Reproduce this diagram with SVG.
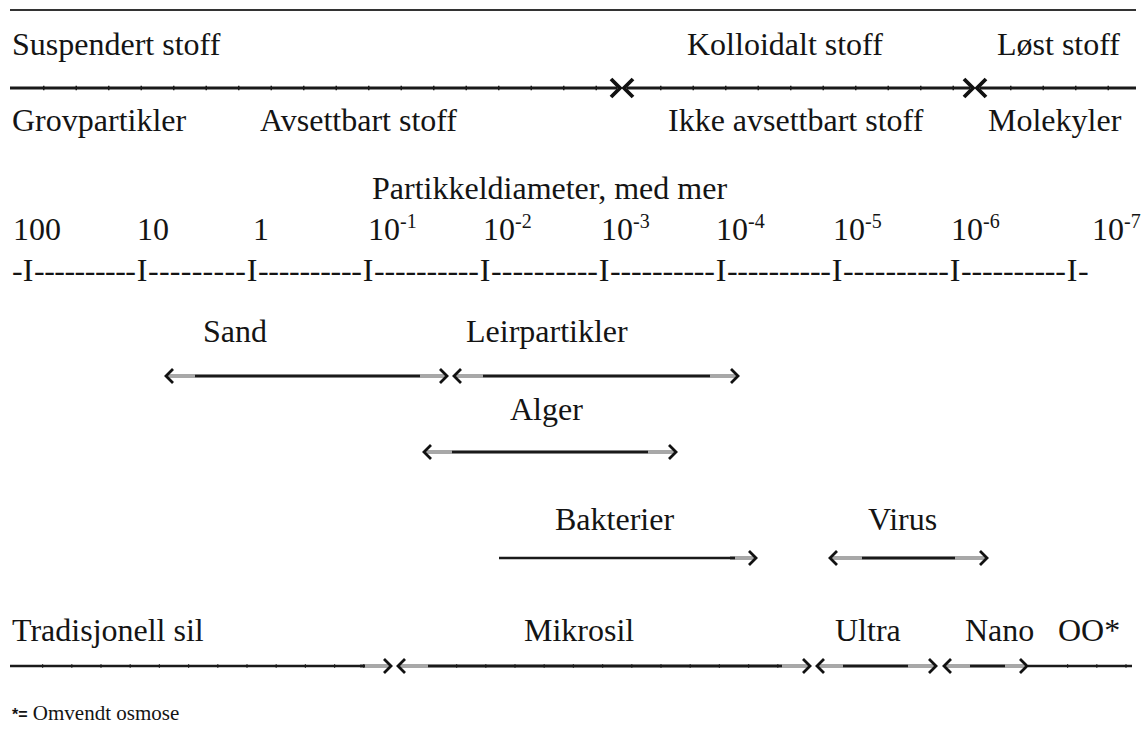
<svg xmlns="http://www.w3.org/2000/svg" width="1144" height="740" viewBox="0 0 1144 740">
<style>
  text { font-family: "Liberation Serif", "Times New Roman", serif; font-size: 32px; fill: #141414; }
  .sup { font-size: 20px; }
  .foot { font-size: 21px; }
  .star { font-family: "Liberation Sans", Arial, sans-serif; font-weight: bold; font-size: 16px; }
  .rule { stroke: #333; stroke-width: 2; fill: none; }
  .main { stroke: #1a1a1a; stroke-width: 3.2; fill: none; }
  .ticks { stroke: #1a1a1a; stroke-width: 4.6; stroke-dasharray: 1.5 31; fill: none; }
  .under { stroke: #a8a8a8; stroke-width: 4; fill: none; }
  .dark { stroke: #1a1a1a; stroke-width: 2.6; fill: none; }
  .sticks { stroke: #1a1a1a; stroke-width: 3.6; stroke-dasharray: 1.2 28; fill: none; }
  .chevL { stroke: #111; stroke-width: 3.8; fill: none; stroke-linejoin: miter; }
  .chev { stroke: #111; stroke-width: 2.8; fill: none; stroke-linejoin: miter; }
</style>

<rect width="1144" height="740" fill="#ffffff"/>

<g id="connectors">
  <line class="rule" x1="10" y1="10" x2="1136" y2="10"/>
  <!-- top category line -->
  <line class="main" x1="10" y1="88" x2="617" y2="88"/>
  <line class="main" x1="627" y1="88" x2="970" y2="88"/>
  <line class="main" x1="980" y1="88" x2="1136" y2="88"/>
  <line class="ticks" x1="43" y1="88" x2="617" y2="88"/>
  <line class="ticks" x1="660" y1="88" x2="970" y2="88"/>
  <line class="ticks" x1="1010" y1="88" x2="1136" y2="88"/>
  <path class="chevL" d="M611,79 L620,88 L611,97"/>
  <path class="chevL" d="M633,79 L624,88 L633,97"/>
  <path class="chevL" d="M964,79 L973,88 L964,97"/>
  <path class="chevL" d="M986,79 L977,88 L986,97"/>

  <!-- Sand -->
  <line class="under" x1="167" y1="376" x2="446" y2="376"/>
  <line class="dark" x1="195" y1="376" x2="420" y2="376"/>
  <path class="chev" d="M173,369 L166,376 L173,383"/>
  <path class="chev" d="M440,369 L447,376 L440,383"/>
  <!-- Leirpartikler -->
  <line class="under" x1="455" y1="376" x2="737" y2="376"/>
  <line class="dark" x1="483" y1="376" x2="710" y2="376"/>
  <path class="chev" d="M461,369 L454,376 L461,383"/>
  <path class="chev" d="M731,369 L738,376 L731,383"/>
  <!-- Alger -->
  <line class="under" x1="425" y1="452" x2="675" y2="452"/>
  <line class="dark" x1="452" y1="452" x2="648" y2="452"/>
  <path class="chev" d="M431,445 L424,452 L431,459"/>
  <path class="chev" d="M669,445 L676,452 L669,459"/>
  <!-- Bakterier -->
  <line class="under" x1="730" y1="558" x2="755" y2="558"/>
  <line class="dark" x1="499" y1="558" x2="735" y2="558"/>
  <path class="chev" d="M749,551 L756,558 L749,565"/>
  <!-- Virus -->
  <line class="under" x1="831" y1="558" x2="986" y2="558"/>
  <line class="dark" x1="862" y1="558" x2="955" y2="558"/>
  <path class="chev" d="M837,551 L830,558 L837,565"/>
  <path class="chev" d="M980,551 L987,558 L980,565"/>

  <!-- filter line -->
  <line class="under" x1="360" y1="666" x2="390" y2="666"/>
  <line class="dark" x1="10" y1="666" x2="365" y2="666"/>
  <line class="sticks" x1="42" y1="666" x2="365" y2="666"/>
  <path class="chev" d="M384,659 L391,666 L384,673"/>
  <line class="under" x1="399" y1="666" x2="809" y2="666"/>
  <line class="dark" x1="428" y1="666" x2="782" y2="666"/>
  <line class="sticks" x1="456" y1="666" x2="782" y2="666"/>
  <path class="chev" d="M405,659 L398,666 L405,673"/>
  <path class="chev" d="M803,659 L810,666 L803,673"/>
  <line class="under" x1="818" y1="666" x2="935" y2="666"/>
  <line class="dark" x1="843" y1="666" x2="908" y2="666"/>
  <path class="chev" d="M824,659 L817,666 L824,673"/>
  <path class="chev" d="M929,659 L936,666 L929,673"/>
  <line class="under" x1="945" y1="666" x2="1026" y2="666"/>
  <line class="dark" x1="970" y1="666" x2="1005" y2="666"/>
  <line class="dark" x1="1028" y1="666" x2="1132" y2="666"/>
  <line class="sticks" x1="1067" y1="666" x2="1132" y2="666"/>
  <path class="chev" d="M951,659 L944,666 L951,673"/>
  <path class="chev" d="M1020,659 L1027,666 L1020,673"/>
</g>

<g id="categories">
  <text x="12" y="55">Suspendert stoff</text>
  <text x="687" y="55">Kolloidalt stoff</text>
  <text x="997" y="55">Løst stoff</text>
  <text x="12" y="131">Grovpartikler</text>
  <text x="260" y="131">Avsettbart stoff</text>
  <text x="668" y="131">Ikke avsettbart stoff</text>
  <text x="988" y="131">Molekyler</text>
</g>

<g id="scale">
  <text x="372" y="199">Partikkeldiameter, med mer</text>
  <text x="13" y="240">100</text>
  <text x="137" y="240">10</text>
  <text x="253" y="240">1</text>
  <text x="368" y="240">10<tspan class="sup" dy="-12">-1</tspan></text>
  <text x="483" y="240">10<tspan class="sup" dy="-12">-2</tspan></text>
  <text x="601" y="240">10<tspan class="sup" dy="-12">-3</tspan></text>
  <text x="716" y="240">10<tspan class="sup" dy="-12">-4</tspan></text>
  <text x="833" y="240">10<tspan class="sup" dy="-12">-5</tspan></text>
  <text x="951" y="240">10<tspan class="sup" dy="-12">-6</tspan></text>
  <text x="1092" y="240">10<tspan class="sup" dy="-12">-7</tspan></text>
  <g id="axis">
    <text x="12" y="281">-</text>
    <text x="28" y="281" text-anchor="middle">I</text>
    <text x="34" y="281" textLength="102" lengthAdjust="spacing">----------</text>
    <text x="142" y="281" text-anchor="middle">I</text>
    <text x="148" y="281" textLength="98" lengthAdjust="spacing">---------</text>
    <text x="252" y="281" text-anchor="middle">I</text>
    <text x="258" y="281" textLength="104" lengthAdjust="spacing">----------</text>
    <text x="368" y="281" text-anchor="middle">I</text>
    <text x="374" y="281" textLength="105" lengthAdjust="spacing">----------</text>
    <text x="485" y="281" text-anchor="middle">I</text>
    <text x="491" y="281" textLength="107" lengthAdjust="spacing">----------</text>
    <text x="604" y="281" text-anchor="middle">I</text>
    <text x="610" y="281" textLength="105" lengthAdjust="spacing">----------</text>
    <text x="721" y="281" text-anchor="middle">I</text>
    <text x="727" y="281" textLength="104" lengthAdjust="spacing">----------</text>
    <text x="837" y="281" text-anchor="middle">I</text>
    <text x="843" y="281" textLength="106" lengthAdjust="spacing">----------</text>
    <text x="955" y="281" text-anchor="middle">I</text>
    <text x="961" y="281" textLength="105" lengthAdjust="spacing">----------</text>
    <text x="1072" y="281" text-anchor="middle">I</text>
    <text x="1078" y="281">-</text>
  </g>
</g>

<g id="sand"><text x="203" y="342">Sand</text></g>
<g id="leirpartikler"><text x="466" y="342">Leirpartikler</text></g>
<g id="alger"><text x="510" y="420">Alger</text></g>
<g id="bakterier"><text x="555" y="530">Bakterier</text></g>
<g id="virus"><text x="868" y="530">Virus</text></g>

<g id="filters">
  <text x="12" y="641">Tradisjonell sil</text>
  <text x="524" y="641">Mikrosil</text>
  <text x="835" y="641">Ultra</text>
  <text x="965" y="641">Nano</text>
  <text x="1058" y="641">OO*</text>
</g>

<g id="footnote">
  <text class="foot" x="12" y="720"><tspan class="star">*=</tspan> Omvendt osmose</text>
</g>
</svg>
